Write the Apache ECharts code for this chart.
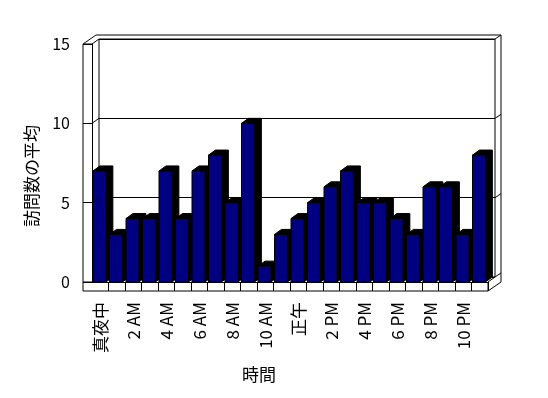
<!DOCTYPE html>
<html>
<head>
<meta charset="utf-8">
<script src="https://cdn.jsdelivr.net/npm/echarts@6/dist/echarts.min.js"></script>
<style>
  html, body { margin: 0; padding: 0; background: #fff; }
  #main { width: 548px; height: 398px; }
</style>
</head>
<body>
<div id="main"></div>
<script>
var hours = ['真夜中', '1 AM', '2 AM', '3 AM', '4 AM', '5 AM', '6 AM', '7 AM', '8 AM', '9 AM', '10 AM', '11 AM',
             '正午', '1 PM', '2 PM', '3 PM', '4 PM', '5 PM', '6 PM', '7 PM', '8 PM', '9 PM', '10 PM', '11 PM'];
var visits = [7, 3, 4, 4, 7, 4, 7, 8, 5, 10, 1, 3, 4, 5, 6, 7, 5, 5, 4, 3, 6, 6, 3, 8];
var yMin = 0, yMax = 15, yStep = 5;
var xTitle = '時間';
var yTitle = '訪問数の平均';

// box layout (front plane) and depth offset
var L = 92, R = 488, T = 44, B = 282;
var DX = 7, DY = -5;      // floor / bar depth
var OX = 13, OY = -9;     // depth incl. back wall thickness
var WALL = 9;
var font = '"Noto Sans CJK JP", "Noto Sans", sans-serif';

var chartDom = document.getElementById('main');
var myChart = echarts.init(chartDom, null, { renderer: 'canvas' });

var option = {
  animation: false,
  grid: [
    { left: L, right: 548 - R, top: T, bottom: 398 - B },
    { left: L + DX, right: 548 - R - DX, top: T + DY, bottom: 398 - B - DY,
      show: true, borderColor: '#000', borderWidth: 1, backgroundColor: 'transparent' }
  ],
  xAxis: [
    {
      type: 'category', gridIndex: 0, data: hours, boundaryGap: true,
      axisLine: { show: true, lineStyle: { color: '#000', width: 1 } },
      axisTick: { show: true, length: WALL, lineStyle: { color: '#000' },
                  interval: function (i) { return i !== 0; } },
      axisLabel: { interval: 1, rotate: 90, margin: 20, color: '#000', fontSize: 17, fontFamily: font },
      splitLine: { show: false }
    },
    { type: 'category', gridIndex: 1, data: hours, show: false }
  ],
  yAxis: [
    {
      type: 'value', gridIndex: 0, min: yMin, max: yMax, interval: yStep,
      axisLine: { show: true, lineStyle: { color: '#000', width: 1 } },
      axisTick: { show: true, length: WALL, lineStyle: { color: '#000' } },
      axisLabel: { margin: 22, color: '#000', fontSize: 16, fontFamily: font },
      splitLine: { show: false }
    },
    {
      type: 'value', gridIndex: 1, min: yMin, max: yMax, interval: yStep,
      axisLine: { show: false }, axisTick: { show: false }, axisLabel: { show: false },
      splitLine: { show: true, lineStyle: { color: '#000', width: 1 } }
    }
  ],
  series: [
    {
      type: 'custom',
      xAxisIndex: 0, yAxisIndex: 0,
      data: visits.map(function (v, i) { return [i, v]; }),
      renderItem: function (params, api) {
        var top = api.coord([api.value(0), api.value(1)]);
        var base = api.coord([api.value(0), 0]);
        var bw = api.size([1, 0])[0];
        var x0 = top[0] - bw / 2 + 1;
        var w = bw * 0.78;
        var x1 = x0 + w;
        return {
          type: 'group',
          children: [
            {
              type: 'polygon',
              shape: { points: [[x0, top[1]], [x0 + DX, top[1] + DY], [x1 + DX, top[1] + DY],
                                [x1 + DX, base[1] + DY], [x1, base[1]], [x1, top[1]]] },
              style: { fill: '#000', stroke: '#000', lineWidth: 1 }
            },
            {
              type: 'rect',
              shape: { x: x0, y: top[1], width: w, height: base[1] - top[1] },
              style: { fill: '#000080', stroke: '#000', lineWidth: 1 }
            }
          ]
        };
      }
    }
  ]
};

option && myChart.setOption(option);

// frame of the 3d box, ticks follow the value axis
var line = function (pts) {
  return { type: 'polyline', silent: true, z: 10, shape: { points: pts },
           style: { stroke: '#000', lineWidth: 1, fill: null } };
};
var els = [
  line([[L, T], [L - WALL, T], [L - WALL, B + WALL], [R, B + WALL], [R, B]]),
  line([[L - WALL, B], [L, B]]),
  line([[L - WALL, T], [L - WALL + OX, T + OY], [R + OX, T + OY], [R + DX, T + DY]]),
  line([[L, T], [L + DX, T + DY]]),
  line([[R + OX, T + OY], [R + OX, B]]),
  line([[R, B], [R + DX, B + DY], [R + OX, B + OY]]),
  line([[R, B + WALL], [R + OX, B]])
];
for (var v = yMin + yStep; v < yMax; v += yStep) {
  var y = myChart.convertToPixel({ yAxisIndex: 0 }, v);
  els.push(line([[L, y], [L + DX, y + DY]]));
  els.push(line([[R + DX, y + DY], [R + OX, y + OY]]));
}
els.push({ type: 'text', silent: true, x: 32, y: 176, rotation: Math.PI / 2,
           style: { text: yTitle, fill: '#000', font: '17px ' + font, align: 'center', verticalAlign: 'middle' } });
els.push({ type: 'text', silent: true, x: 259, y: 375,
           style: { text: xTitle, fill: '#000', font: '17px ' + font, align: 'center', verticalAlign: 'middle' } });

myChart.setOption({ graphic: { elements: els } });
</script>
</body>
</html>
